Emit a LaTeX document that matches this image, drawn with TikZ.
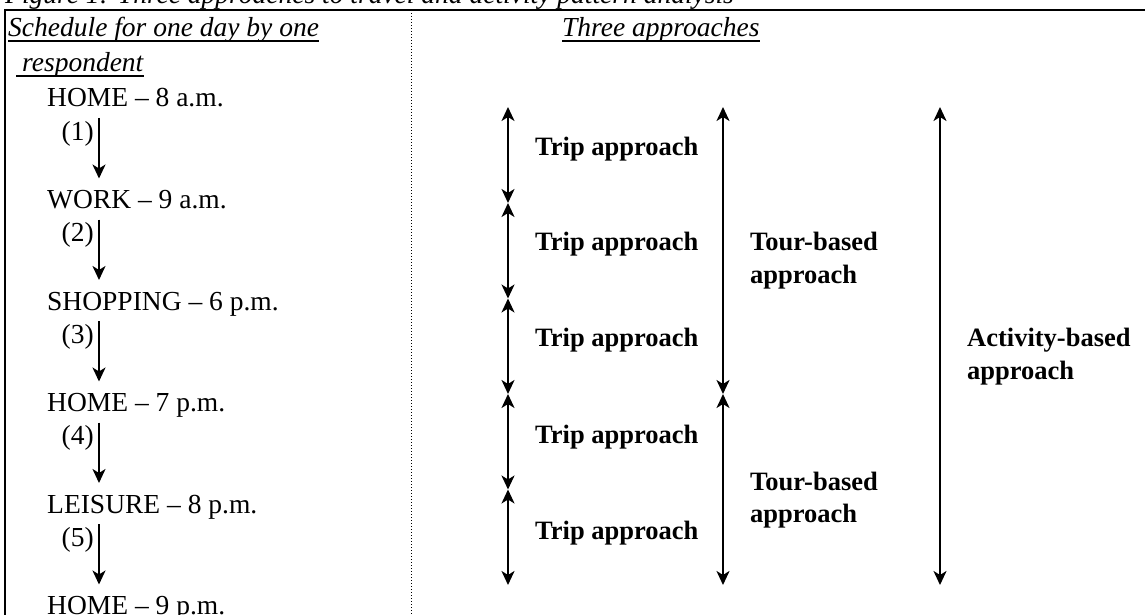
\documentclass[tikz,border=0pt]{standalone}
\usepackage{fontspec}
\setmainfont{Liberation Serif}
\usetikzlibrary{arrows.meta}
\begin{document}
\begin{tikzpicture}[x=1pt,y=-1pt,
  lbl/.style={anchor=base west,inner sep=0pt,font=\fontsize{27.5}{33}\selectfont},
  itl/.style={lbl,font=\fontsize{27.5}{33}\selectfont\itshape},
  bfl/.style={lbl,font=\fontsize{26.5}{32}\selectfont\bfseries},
  num/.style={anchor=base east,inner sep=0pt,font=\fontsize{27.5}{33}\selectfont},
  border/.style={line width=2.5pt,line cap=rect},
  divider/.style={line width=1pt,dash pattern=on 1pt off 2pt},
  uline/.style={line width=1.8pt},
  flow/.style={line width=2pt,-{Stealth[length=14pt,width=13pt,inset=4pt]}},
  span/.style={line width=2pt,{Stealth[length=14pt,width=13pt,inset=4pt]}-{Stealth[length=14pt,width=13pt,inset=4pt]}}]
\useasboundingbox (0,0) rectangle (1145,615);

% title (cut at the top)
\node[itl] (title) at (5,4) {Figure 1: Three approaches to travel and activity pattern analysis};

% table frame
\draw[border] (1145,10) -- (5,10) -- (5,615);
\draw[divider] (411,10) -- (411,615);

% column headings
\node[itl] (sched) at (8,37) {Schedule for one day by one};
\draw[uline] ([yshift=-4pt]sched.base west) -- ([yshift=-4pt]sched.base east);
\node[itl] (resp) at (22,72) {respondent};
\draw[uline] ([xshift=-6pt,yshift=-4pt]resp.base west) -- ([yshift=-4pt]resp.base east);
\node[itl] (three) at (562,37) {Three approaches};
\draw[uline] ([yshift=-4pt]three.base west) -- ([yshift=-4pt]three.base east);

% schedule
\node[lbl] (s0) at (47,107)   {HOME -- 8 a.m.};
\node[lbl] (s1) at (47,208.5) {WORK -- 9 a.m.};
\node[lbl] (s2) at (47,310)   {SHOPPING -- 6 p.m.};
\node[lbl] (s3) at (47,411.5) {HOME -- 7 p.m.};
\node[lbl] (s4) at (47,513)   {LEISURE -- 8 p.m.};
\node[lbl] (s5) at (47,614.5) {HOME -- 9 p.m.};

\node[num] (n1) at (94,140)   {(1)};
\node[num] (n2) at (94,241.5) {(2)};
\node[num] (n3) at (94,343)   {(3)};
\node[num] (n4) at (94,444.5) {(4)};
\node[num] (n5) at (94,546)   {(5)};

\coordinate (a1s) at (99,118);   \coordinate (a1e) at (99,178.5);
\coordinate (a2s) at (99,219.5); \coordinate (a2e) at (99,280);
\coordinate (a3s) at (99,321);   \coordinate (a3e) at (99,381.5);
\coordinate (a4s) at (99,422.5); \coordinate (a4e) at (99,483);
\coordinate (a5s) at (99,524);   \coordinate (a5e) at (99,584.5);
\draw[flow] (a1s) -- (a1e);
\draw[flow] (a2s) -- (a2e);
\draw[flow] (a3s) -- (a3e);
\draw[flow] (a4s) -- (a4e);
\draw[flow] (a5s) -- (a5e);

% trip approach
\coordinate (t0) at (508,107);
\coordinate (t1) at (508,203);
\coordinate (t2) at (508,298.5);
\coordinate (t3) at (508,394);
\coordinate (t4) at (508,489.5);
\coordinate (t5) at (508,585);
\draw[span] (t0) -- (t1);
\draw[span] (t1) -- (t2);
\draw[span] (t2) -- (t3);
\draw[span] (t3) -- (t4);
\draw[span] (t4) -- (t5);
\node[bfl] (trip1) at (535,155) {Trip approach};
\node[bfl] (trip2) at (535,250) {Trip approach};
\node[bfl] (trip3) at (535,346) {Trip approach};
\node[bfl] (trip4) at (535,443) {Trip approach};
\node[bfl] (trip5) at (535,539) {Trip approach};

% tour-based approach
\coordinate (u0) at (723,107);
\coordinate (u1) at (723,394);
\coordinate (u2) at (723,585);
\draw[span] (u0) -- (u1);
\draw[span] (u1) -- (u2);
\node[bfl] (tourA1) at (750,250) {Tour-based};
\node[bfl] (tourA2) at (750,283) {approach};
\node[bfl] (tourB1) at (750,490) {Tour-based};
\node[bfl] (tourB2) at (750,522) {approach};

% activity-based approach
\coordinate (v0) at (940,107);
\coordinate (v1) at (940,585);
\draw[span] (v0) -- (v1);
\node[bfl] (act1) at (967,346) {Activity-based};
\node[bfl] (act2) at (967,379) {approach};
\end{tikzpicture}
\end{document}
